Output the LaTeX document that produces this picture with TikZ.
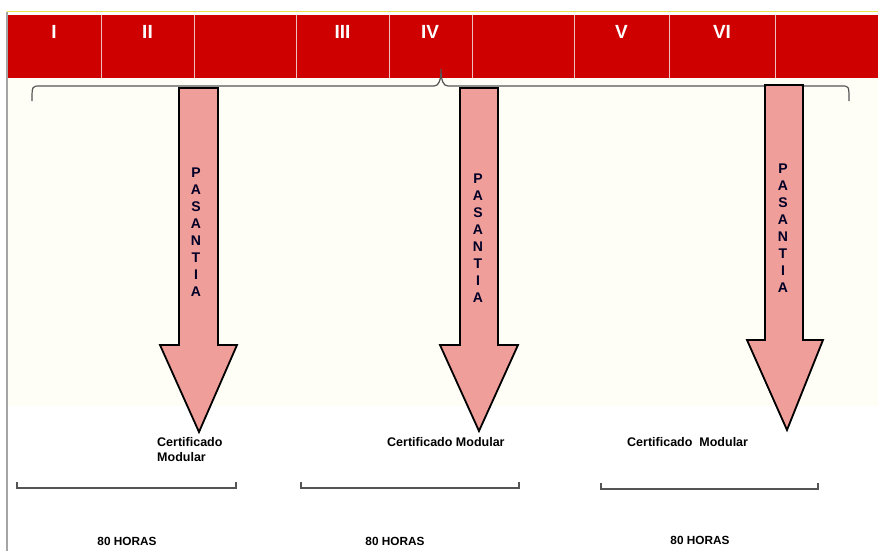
\documentclass[tikz,border=0pt]{standalone}
\usepackage{fontspec}
\setmainfont{Liberation Sans}
\definecolor{bandred}{RGB}{206,0,0}
\definecolor{cellline}{RGB}{240,190,190}
\definecolor{arrowpink}{RGB}{240,158,154}
\definecolor{cream}{RGB}{254,254,246}
\definecolor{bracegray}{RGB}{85,85,85}
\definecolor{framegray}{RGB}{165,165,165}
\definecolor{topline}{RGB}{235,225,80}
\tikzset{
  numeral/.style={text=white, font=\fontsize{19}{19}\selectfont\bfseries, inner sep=0pt},
  blockarrow/.style={fill=arrowpink, draw=black, line width=1.8pt, line join=miter},
  vertword/.style={align=center, text=black!85!blue, inner sep=0pt,
    font=\fontsize{14}{17}\selectfont\bfseries},
  certif/.style={font=\fontsize{12.5}{15}\selectfont\bfseries, inner sep=0pt, anchor=base west},
  hours/.style={font=\fontsize{11.8}{14}\selectfont\bfseries, inner sep=0pt},
  span/.style={draw=bracegray, line width=1.3pt},
}
\begin{document}
\begin{tikzpicture}[x=1pt, y=-1pt]
\useasboundingbox (0,0) rectangle (878,551);
\fill[cream] (8,78) rectangle (878,406);
\draw[framegray, line width=1.6pt] (7,12) -- (7,551);
\draw[topline, line width=0.8pt] (7,11.5) -- (878,11.5);

% red band with the semesters
\fill[bandred] (8,15) rectangle (878,78);
\foreach \x in {101,194,296,389,472,574,669,775}
  \draw[cellline, line width=0.8pt] (\x,15) -- (\x,78);
\node[numeral] (s1) at (54,31.5) {I};
\node[numeral] (s2) at (147.5,31.5) {II};
\node[numeral] (s3) at (342.5,31.5) {III};
\node[numeral] (s4) at (430,31.5) {IV};
\node[numeral] (s5) at (621.5,31.5) {V};
\node[numeral] (s6) at (722,31.5) {VI};

% brace under the band
\draw[bracegray, line width=1.2pt] (32,101) .. controls (32,86) .. (40,86) -- (434,86)
  .. controls (439,86) and (441,80) .. (441,69)
  .. controls (441,80) and (443,86) .. (448,86) -- (842,86)
  .. controls (849,86) .. (849,101);

% internship arrows
\foreach \sl/\sr/\ya/\hy/\hl/\hr/\tx/\ty in
  {179/218/88/345/160/237/199/432, 460/498/88/345/440/518/479/431, 765/803/85/340/747/823/787/430}
  \draw[blockarrow] (\sl,\ya) -- (\sr,\ya) -- (\sr,\hy) -- (\hr,\hy) -- (\tx,\ty)
    -- (\hl,\hy) -- (\sl,\hy) -- cycle;
\node[vertword] (p1) at (196,232) {P\\A\\S\\A\\N\\T\\I\\A};
\node[vertword] (p2) at (478,238) {P\\A\\S\\A\\N\\T\\I\\A};
\node[vertword] (p3) at (783,228) {P\\A\\S\\A\\N\\T\\I\\A};

% certificates
\node[certif, anchor=north west, align=left] (c1) at (157,437.5) {Certificado\\Modular};
\node[certif] (c2) at (387,446) {Certificado Modular};
\node[certif] (c3) at (627,446) {Certificado\ \ Modular};

% modules and hours
\draw[span] (17,482) -- (17,488) -- (236,488) -- (236,482);
\draw[span] (301,482) -- (301,488) -- (519,488) -- (519,482);
\draw[span] (601,483) -- (601,489) -- (818,489) -- (818,483);
\node[hours] (h1) at (127,541.5) {80 HORAS};
\node[hours] (h2) at (395,541.5) {80 HORAS};
\node[hours] (h3) at (700,540.5) {80 HORAS};
\end{tikzpicture}
\end{document}
